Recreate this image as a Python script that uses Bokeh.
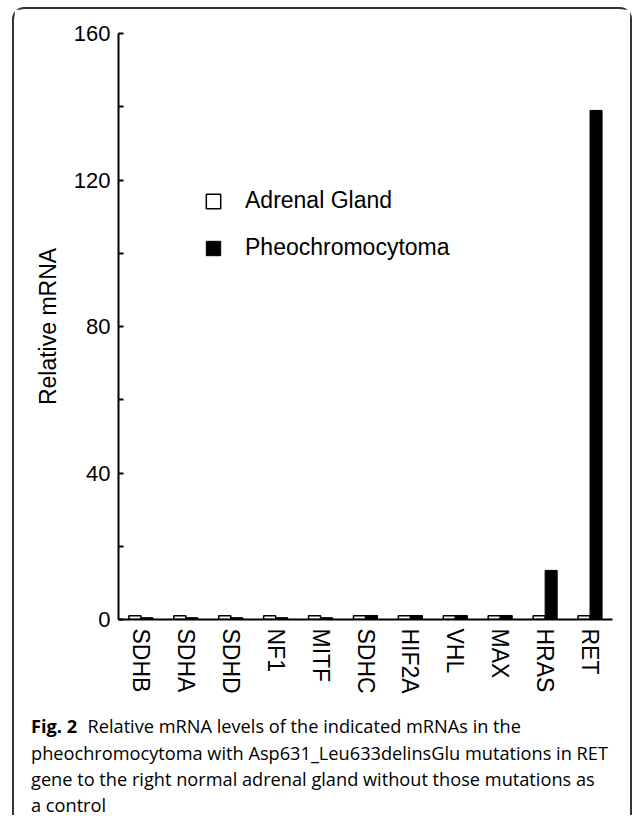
import math
from bokeh.plotting import figure
from bokeh.layouts import column
from bokeh.models import (Range1d, FixedTicker, Legend, LegendItem, Label,
                          ColumnDataSource)
from bokeh.transform import dodge
from bokeh.embed import file_html
from bokeh.resources import INLINE

genes = ["SDHB", "SDHA", "SDHD", "NF1", "MITF", "SDHC", "HIF2A", "VHL", "MAX", "HRAS", "RET"]
adrenal = [1.0, 1.0, 1.0, 1.0, 1.0, 1.0, 1.0, 1.0, 1.0, 1.0, 1.0]
pheo = [0.5, 0.5, 0.5, 0.5, 0.5, 1.1, 1.1, 1.1, 1.1, 13.4, 139.0]
y_ticks = [0, 40, 80, 120, 160]
y_minor = [20, 60, 100, 140]
series_names = ["Adrenal Gland", "Pheochromocytoma"]
caption_bold = "Fig. 2"
caption_lines = [
    "Relative mRNA levels of the indicated mRNAs in the",
    "pheochromocytoma with Asp631_Leu633delinsGlu mutations in RET",
    "gene to the right normal adrenal gland without those mutations as",
    "a control",
]

FONT = "Liberation Sans"
CAP_FONT = "Open Sans"

src = ColumnDataSource(dict(gene=genes, adrenal=adrenal, pheo=pheo))

W = 616
p = figure(width=W, height=692, x_range=genes, y_range=Range1d(0, 160),
           output_backend="svg", toolbar_location=None,
           min_border_left=104, min_border_right=18,
           min_border_top=24, min_border_bottom=82)
p.outline_line_color = None
p.xgrid.grid_line_color = None
p.ygrid.grid_line_color = None
p.background_fill_color = "white"
p.border_fill_color = "white"

r1 = p.vbar(x=dodge("gene", -0.134, range=p.x_range), top="adrenal", width=0.268,
            source=src, fill_color="white", line_color="black", line_width=1.5)
r2 = p.vbar(x=dodge("gene", 0.134, range=p.x_range), top="pheo", width=0.268,
            source=src, fill_color="black", line_color="black", line_width=1)

# axes
ya = p.yaxis[0]
ya.ticker = FixedTicker(ticks=y_ticks, minor_ticks=y_minor)
ya.axis_line_width = 2
ya.axis_line_color = "black"
ya.major_tick_in = 5
ya.major_tick_out = 0
ya.minor_tick_in = 5
ya.minor_tick_out = 0
ya.major_tick_line_width = 2
ya.minor_tick_line_width = 2
ya.major_label_standoff = 8
ya.major_label_text_font = FONT
ya.major_label_text_font_size = "22px"
ya.major_label_text_color = "black"
ya.axis_label = "Relative mRNA"
ya.axis_label_text_font = FONT
ya.axis_label_text_font_size = "23px"
ya.axis_label_text_font_style = "normal"
ya.axis_label_text_color = "black"
ya.axis_label_standoff = 10

xa = p.xaxis[0]
xa.axis_line_width = 2
xa.axis_line_color = "black"
xa.major_tick_line_color = None
xa.minor_tick_line_color = None
xa.major_tick_in = 0
xa.major_tick_out = 0
xa.major_label_orientation = -math.pi / 2
xa.major_label_standoff = 9
xa.major_label_text_font = FONT
xa.major_label_text_font_size = "23px"
xa.major_label_text_color = "black"

legend = Legend(items=[LegendItem(label=series_names[0], renderers=[r1]),
                       LegendItem(label=series_names[1], renderers=[r2])],
                location=(86, 358), orientation="vertical",
                glyph_width=18, glyph_height=18, label_height=18,
                label_standoff=23, spacing=20, padding=0, margin=0,
                label_text_font=FONT, label_text_font_size="23px",
                label_text_color="black", border_line_color=None,
                background_fill_alpha=0)
p.add_layout(legend, "center")

# caption figure
CH = 114
cap = figure(width=W, height=CH, x_range=Range1d(0, W), y_range=Range1d(CH, 0),
             output_backend="svg", toolbar_location=None,
             x_axis_location=None, y_axis_location=None, min_border=0,
             min_border_left=0, min_border_right=0, min_border_top=0,
             min_border_bottom=0)
cap.outline_line_color = None
cap.xgrid.grid_line_color = None
cap.ygrid.grid_line_color = None
base = [24, 51, 77, 103]
CAP_SIZE = "18.2px"
cap.add_layout(Label(x=16.5, y=base[0], text=caption_bold, text_font=CAP_FONT,
                     text_font_style="bold", text_font_size=CAP_SIZE,
                     text_color="black", text_baseline="alphabetic"))
for i, line in enumerate(caption_lines):
    xx = 73 if i == 0 else 16.5
    cap.add_layout(Label(x=xx, y=base[i], text=line, text_font=CAP_FONT,
                         text_font_size=CAP_SIZE, text_color="black",
                         text_baseline="alphabetic"))

layout = column(p, column(cap), spacing=0,
                styles={"border": "2px solid #333333", "border-bottom": "none",
                        "border-radius": "12px 12px 0 0",
                        "margin-left": "12px", "margin-top": "7px",
                        "box-sizing": "content-box"})

open("out.html", "w").write(file_html(layout, INLINE))
